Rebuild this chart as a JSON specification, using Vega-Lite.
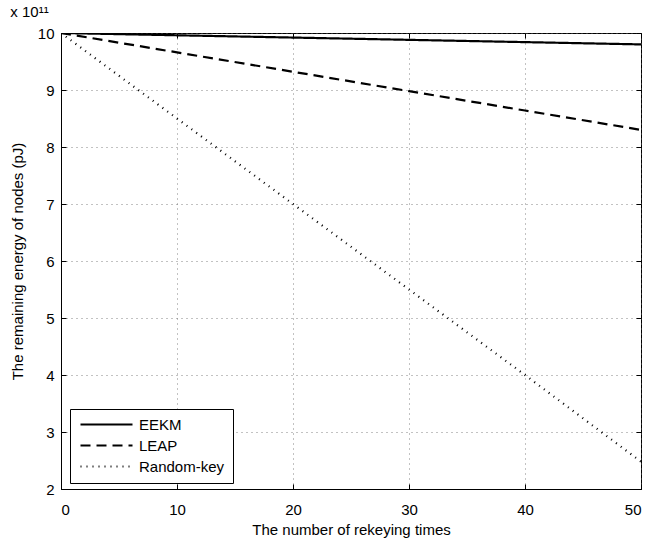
{
  "$schema": "https://vega.github.io/schema/vega-lite/v6.json",
  "autosize": "none",
  "width": 580,
  "height": 456,
  "padding": {"left": 61, "top": 33, "right": 13, "bottom": 53},
  "background": "white",
  "config": {
    "font": "Liberation Sans",
    "view": {"stroke": "black", "strokeWidth": 1},
    "axis": {
      "domainColor": "black",
      "tickColor": "black",
      "labelColor": "black",
      "titleColor": "black",
      "labelFont": "Liberation Sans",
      "titleFont": "Liberation Sans",
      "labelFontSize": 15,
      "titleFontSize": 15,
      "titleFontWeight": "normal",
      "gridColor": "#666666",
      "gridDash": [1, 4],
      "gridOpacity": 1,
      "gridWidth": 0.8,
      "tickSize": -5
    }
  },
  "title": {
    "text": "x 10¹¹",
    "anchor": "start",
    "fontSize": 15,
    "fontWeight": "normal",
    "font": "Liberation Sans",
    "color": "black",
    "offset": 6
  },
  "data": {
    "values": [
      {"x": 0, "y": 10, "method": "EEKM"},
      {"x": 10, "y": 9.96, "method": "EEKM"},
      {"x": 20, "y": 9.92, "method": "EEKM"},
      {"x": 30, "y": 9.88, "method": "EEKM"},
      {"x": 40, "y": 9.84, "method": "EEKM"},
      {"x": 50, "y": 9.8, "method": "EEKM"},
      {"x": 0, "y": 10, "method": "LEAP"},
      {"x": 10, "y": 9.66, "method": "LEAP"},
      {"x": 20, "y": 9.32, "method": "LEAP"},
      {"x": 30, "y": 8.98, "method": "LEAP"},
      {"x": 40, "y": 8.64, "method": "LEAP"},
      {"x": 50, "y": 8.3, "method": "LEAP"},
      {"x": 0, "y": 10, "method": "Random-key"},
      {"x": 10, "y": 8.5, "method": "Random-key"},
      {"x": 20, "y": 7.0, "method": "Random-key"},
      {"x": 30, "y": 5.5, "method": "Random-key"},
      {"x": 40, "y": 4.0, "method": "Random-key"},
      {"x": 50, "y": 2.48, "method": "Random-key"}
    ]
  },
  "resolve": {"axis": {"x": "independent", "y": "independent"}},
  "layer": [
    {
      "mark": {"type": "line", "color": "black", "clip": true},
      "encoding": {
        "x": {
          "field": "x",
          "type": "quantitative",
          "scale": {"domain": [0, 50], "nice": false},
          "axis": {"values": [0, 10, 20, 30, 40, 50], "title": "The number of rekeying times", "labelPadding": 18, "titlePadding": 5, "grid": true}
        },
        "y": {
          "field": "y",
          "type": "quantitative",
          "scale": {"domain": [2, 10], "nice": false, "zero": false},
          "axis": {"values": [2, 3, 4, 5, 6, 7, 8, 9, 10], "title": "The remaining energy of nodes (pJ)", "labelPadding": 12, "titlePadding": 12, "grid": true}
        },
        "strokeDash": {
          "field": "method",
          "type": "nominal",
          "scale": {"domain": ["EEKM", "LEAP", "Random-key"], "range": [[1, 0], [10, 6], [1, 5]]},
          "legend": {
            "title": null,
            "orient": "none",
            "legendX": 9,
            "legendY": 376,
            "strokeColor": "black",
            "fillColor": "white",
            "padding": 8,
            "symbolType": "M-1,0H9.4",
            "symbolSize": 100,
            "symbolOffset": 0,
            "symbolStrokeColor": "black",
            "labelOffset": 46,
            "labelFontSize": 15,
            "labelFont": "Liberation Sans",
            "labelColor": "black",
            "rowPadding": 5,
            "cornerRadius": 0
          }
        },
        "strokeWidth": {
          "field": "method",
          "type": "nominal",
          "scale": {"domain": ["EEKM", "LEAP", "Random-key"], "range": [2.2, 2.2, 1]},
          "legend": {
            "title": null,
            "orient": "none",
            "legendX": 9,
            "legendY": 376,
            "strokeColor": "black",
            "fillColor": "white",
            "padding": 8,
            "symbolType": "M-1,0H9.4",
            "symbolSize": 100,
            "symbolOffset": 0,
            "symbolStrokeColor": "black",
            "labelOffset": 46,
            "labelFontSize": 15,
            "labelFont": "Liberation Sans",
            "labelColor": "black",
            "rowPadding": 5,
            "cornerRadius": 0
          }
        }
      }
    },
    {
      "mark": {"type": "point", "opacity": 0},
      "encoding": {
        "x": {
          "field": "x",
          "type": "quantitative",
          "scale": {"domain": [0, 50], "nice": false},
          "axis": {"orient": "top", "values": [0, 10, 20, 30, 40, 50], "labels": false, "title": null, "grid": false, "domain": false}
        },
        "y": {
          "field": "y",
          "type": "quantitative",
          "scale": {"domain": [2, 10], "nice": false, "zero": false},
          "axis": {"orient": "right", "values": [2, 3, 4, 5, 6, 7, 8, 9, 10], "labels": false, "title": null, "grid": false, "domain": false}
        }
      }
    }
  ]
}
